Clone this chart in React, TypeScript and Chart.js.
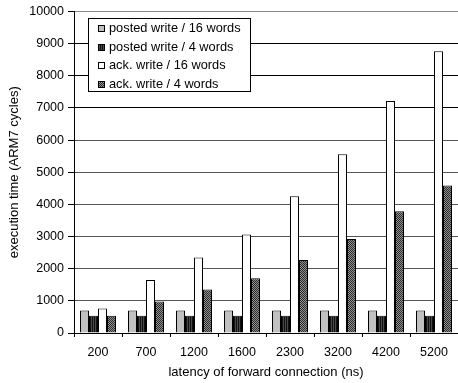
import React, { useEffect, useRef } from "react";
import { Chart, registerables } from "chart.js";

Chart.register(...registerables);

const categories = ["200", "700", "1200", "1600", "2300", "3200", "4200", "5200"];
const postedWrite16 = [700, 700, 700, 700, 700, 700, 700, 700];
const postedWrite4 = [540, 540, 540, 540, 540, 540, 540, 540];
const ackWrite16 = [760, 1650, 2350, 3060, 4250, 5560, 7220, 8760];
const ackWrite4 = [540, 980, 1350, 1700, 2270, 2920, 3790, 4590];
const seriesLabels = [
  "posted write / 16 words",
  "posted write / 4 words",
  "ack. write / 16 words",
  "ack. write / 4 words",
];
const yMin = 0;
const yMax = 10000;
const yStep = 1000;
const xTitle = "latency of forward connection (ns)";
const yTitle = "execution time (ARM7 cycles)";

const FONT = "'Liberation Sans', Arial, Helvetica, sans-serif";

function makePattern(cells: string[][]): CanvasPattern | string {
  const h = cells.length;
  const w = cells[0].length;
  const c = document.createElement("canvas");
  c.width = w;
  c.height = h;
  const cx = c.getContext("2d");
  if (!cx) return "#444";
  for (let y = 0; y < h; y++) {
    for (let x = 0; x < w; x++) {
      cx.fillStyle = cells[y][x];
      cx.fillRect(x, y, 1, 1);
    }
  }
  const p = cx.createPattern(c, "repeat");
  return p || "#444";
}

export default function App() {
  const ref = useRef<HTMLCanvasElement | null>(null);

  useEffect(() => {
    document.body.style.margin = "0";
    const canvas = ref.current;
    if (!canvas) return;

    const stripes = makePattern([["#111111", "#4a4a4a"]]);
    const checker = makePattern([
      ["#2c2c2c", "#909090"],
      ["#909090", "#2c2c2c"],
    ]);

    const fills: (string | CanvasPattern)[] = ["#c0c0c0", stripes, "#ffffff", checker];
    const values = [postedWrite16, postedWrite4, ackWrite16, ackWrite4];

    const legendPlugin = {
      id: "boxLegend",
      afterDraw(chart: any) {
        const ctx = chart.ctx as CanvasRenderingContext2D;
        ctx.save();
        const bx = 88.5, by = 18.5, bw = 162, bh = 73;
        ctx.fillStyle = "#ffffff";
        ctx.fillRect(bx, by, bw, bh);
        ctx.strokeStyle = "#000";
        ctx.lineWidth = 1;
        ctx.strokeRect(bx, by, bw, bh);
        ctx.font = "12.8px " + FONT;
        ctx.textBaseline = "middle";
        ctx.textAlign = "left";
        seriesLabels.forEach((lab, i) => {
          const cy = 28 + i * 18.5;
          const ds = chart.data.datasets[i];
          ctx.fillStyle = ds.backgroundColor;
          ctx.fillRect(98, Math.round(cy) - 3, 7, 7);
          ctx.strokeStyle = "#000";
          ctx.strokeRect(98.5, Math.round(cy) - 2.5, 6, 6);
          ctx.fillStyle = "#000";
          ctx.fillText(lab, 109, cy + 0.5);
        });
        ctx.restore();
      },
    };

    const chart = new Chart(canvas, {
      type: "bar",
      data: {
        labels: categories,
        datasets: seriesLabels.map((lab, i) => ({
          label: lab,
          data: values[i],
          backgroundColor: fills[i] as any,
          borderColor: "#000",
          borderWidth: 1,
          borderSkipped: "bottom" as const,
          categoryPercentage: 0.75,
          barPercentage: 1.0,
        })),
      },
      options: {
        responsive: false,
        animation: false,
        devicePixelRatio: 1,
        layout: { padding: { top: 9, right: 0, bottom: 0, left: 0 } },
        plugins: {
          legend: { display: false },
          tooltip: { enabled: false },
        },
        scales: {
          x: {
            afterFit: (s: any) => {
              s.height = 50;
            },
            grid: {
              offset: true,
              drawOnChartArea: false,
              drawTicks: true,
              tickLength: 4,
              color: "#000",
            },
            border: { color: "#000", width: 1 },
            ticks: {
              color: "#000",
              font: { family: FONT, size: 12.5 },
              padding: 8,
              maxRotation: 0,
            },
            title: {
              display: true,
              text: xTitle,
              color: "#000",
              font: { family: FONT, size: 13 },
              padding: { top: 0, bottom: 3 },
            },
          },
          y: {
            min: yMin,
            max: yMax,
            afterFit: (s: any) => {
              s.width = 74;
            },
            grid: {
              drawTicks: true,
              tickLength: 6,
              tickColor: "#000",
              color: (c: any) => {
                const v = c.tick ? c.tick.value : 0;
                if (v === 10000) return "#8a8a8a";
                if (v >= 7000) return "#000000";
                if (v === 0) return "#000000";
                return "#555555";
              },
            },
            border: { color: "#000", width: 1 },
            ticks: {
              stepSize: yStep,
              color: "#000",
              font: { family: FONT, size: 12.5 },
              padding: 4,
              callback: (v: any) => String(v),
            },
            title: {
              display: true,
              text: yTitle,
              color: "#000",
              font: { family: FONT, size: 13 },
              padding: { top: 7, bottom: 0 },
            },
          },
        },
      },
      plugins: [legendPlugin],
    });

    return () => {
      chart.destroy();
    };
  }, []);

  return (
    <div style={{ position: "fixed", left: 0, top: 0, width: 458, height: 383, background: "#fff" }}>
      <canvas ref={ref} width={458} height={383} style={{ width: 458, height: 383, display: "block" }} />
    </div>
  );
}
